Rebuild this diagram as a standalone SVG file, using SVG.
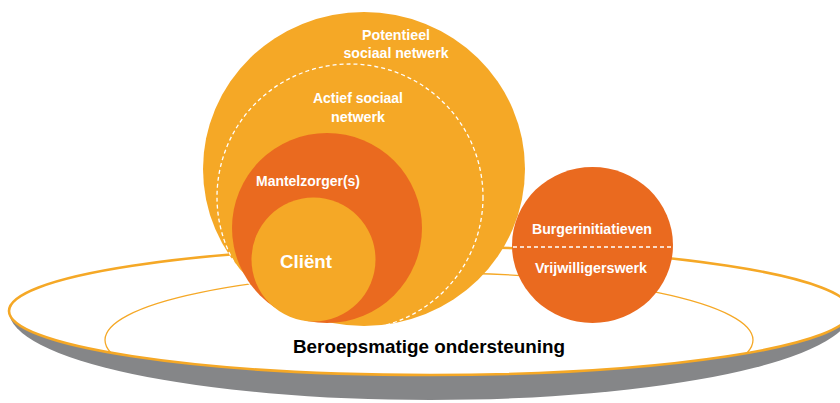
<svg xmlns="http://www.w3.org/2000/svg" width="840" height="403" viewBox="0 0 840 403">
  <style>
    .lt { fill: #F5A826; }
    .dk { fill: #EA6A1F; }
    .lbl { font-family: "Liberation Sans", Arial, sans-serif; font-weight: bold; fill: #FFFFFF; text-anchor: middle; font-size: 14px; }
    .dash { fill: none; stroke: #FFFFFF; stroke-width: 1.3; stroke-dasharray: 4 3; }
    .base { font-family: "Liberation Sans", Arial, sans-serif; font-weight: bold; fill: #000000; text-anchor: middle; font-size: 19px; }
  </style>
  <defs>
    <clipPath id="plateClip">
      <ellipse cx="430" cy="311" rx="421" ry="64"/>
    </clipPath>
  </defs>
  <rect width="840" height="403" fill="#FFFFFF"/>

  <g id="plate">
    <path d="M 9 311 A 421 89 0 0 0 851 311 Z" fill="#858688"/>
    <ellipse cx="430" cy="311" rx="421" ry="64" fill="#FFFFFF" stroke="#F5A826" stroke-width="2.6"/>
    <ellipse cx="429" cy="340" rx="324" ry="67" fill="none" stroke="#F5A826" stroke-width="1.3" clip-path="url(#plateClip)"/>
    <text class="base" x="429" y="353" textLength="272" lengthAdjust="spacingAndGlyphs">Beroepsmatige ondersteuning</text>
  </g>

  <g id="potentieel">
    <ellipse class="lt" cx="364" cy="169" rx="161" ry="157"/>
    <text class="lbl" x="396" y="40" textLength="68" lengthAdjust="spacingAndGlyphs">Potentieel</text>
    <text class="lbl" x="396" y="58" textLength="105" lengthAdjust="spacingAndGlyphs">sociaal netwerk</text>
  </g>

  <g id="actief">
    <circle class="dash" cx="350" cy="197" r="133"/>
    <text class="lbl" x="358" y="103" textLength="90" lengthAdjust="spacingAndGlyphs">Actief sociaal</text>
    <text class="lbl" x="358" y="122" textLength="54" lengthAdjust="spacingAndGlyphs">netwerk</text>
  </g>

  <g id="mantelzorgers">
    <circle class="dk" cx="327" cy="228" r="95"/>
    <text class="lbl" x="308" y="186" textLength="104" lengthAdjust="spacingAndGlyphs">Mantelzorger(s)</text>
  </g>

  <g id="client">
    <circle class="lt" cx="313.5" cy="259.5" r="62"/>
    <text class="lbl" x="306" y="268" style="font-size:19px" textLength="52" lengthAdjust="spacingAndGlyphs">Cliënt</text>
  </g>

  <g id="burger-vrijwilligers">
    <ellipse class="dk" cx="592.5" cy="245" rx="80.5" ry="78"/>
    <line x1="513" y1="247" x2="672" y2="247" class="dash"/>
    <text class="lbl" x="592" y="234" textLength="120" lengthAdjust="spacingAndGlyphs">Burgerinitiatieven</text>
    <text class="lbl" x="591" y="273" textLength="112" lengthAdjust="spacingAndGlyphs">Vrijwilligerswerk</text>
  </g>

  <g id="connectors"/>
</svg>
